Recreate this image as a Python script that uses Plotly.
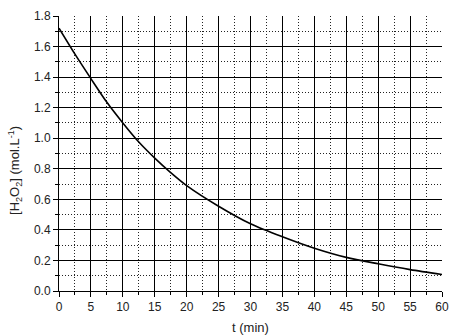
import plotly.graph_objects as go

# Data
t_min = [0, 2.5, 5, 7.5, 10, 12.5, 15, 17.5, 20, 25, 30, 35, 40, 45, 50, 55, 60]
h2o2 = [1.72, 1.55, 1.39, 1.235, 1.10, 0.975, 0.87, 0.775, 0.69, 0.555, 0.44,
        0.355, 0.28, 0.22, 0.178, 0.14, 0.108]

x_ticks = [0, 5, 10, 15, 20, 25, 30, 35, 40, 45, 50, 55, 60]
y_ticks = [0.0, 0.2, 0.4, 0.6, 0.8, 1.0, 1.2, 1.4, 1.6, 1.8]
y_tick_text = ["0.0", "0.2", "0.4", "0.6", "0.8", "1.0", "1.2", "1.4", "1.6", "1.8"]
x_grid = x_ticks[:-1]
y_grid = y_ticks[:-1]

font = "Liberation Sans, Arial, sans-serif"

fig = go.Figure()
fig.add_trace(go.Scatter(x=t_min, y=h2o2, mode="lines",
                         line=dict(color="black", width=1.6, shape="spline", smoothing=0.8),
                         showlegend=False, hoverinfo="skip"))
fig.add_trace(go.Scatter(x=[], y=[], xaxis="x2", yaxis="y2", showlegend=False))

fig.update_layout(
    width=461, height=335,
    margin=dict(l=59, r=19, t=9, b=44),
    paper_bgcolor="white", plot_bgcolor="white",
    font=dict(family=font, size=12, color="#222"),
    xaxis=dict(range=[0, 60], tickmode="array", tickvals=x_ticks,
               showline=True, linecolor="black", linewidth=1,
               ticks="outside", ticklen=5, tickcolor="black",
               showgrid=False, zeroline=False,
               minor=dict(tickmode="linear", tick0=2.5, dtick=5, ticks="outside",
                          ticklen=3, tickcolor="black", showgrid=True,
                          gridcolor="#222", gridwidth=1, griddash="1px,2px")),
    yaxis=dict(range=[0, 1.8], tickmode="array", tickvals=y_ticks, ticktext=y_tick_text,
               showline=True, linecolor="black", linewidth=1,
               ticks="outside", ticklen=5, tickcolor="black",
               showgrid=False, zeroline=False,
               minor=dict(tickmode="linear", tick0=0.1, dtick=0.2, ticks="outside",
                          ticklen=3, tickcolor="black", showgrid=True,
                          gridcolor="#222", gridwidth=1, griddash="1px,2px")),
    xaxis2=dict(overlaying="x", anchor="y", side="bottom", range=[0, 60],
                tickmode="array", tickvals=x_grid, showticklabels=False, ticks="",
                showgrid=True, gridcolor="black", gridwidth=1, zeroline=False, showline=False),
    yaxis2=dict(overlaying="y", anchor="x", side="left", range=[0, 1.8],
                tickmode="array", tickvals=y_grid, showticklabels=False, ticks="",
                showgrid=True, gridcolor="black", gridwidth=1, zeroline=False, showline=False),
    annotations=[
        dict(text="t (min)", xref="paper", yref="paper", x=0.5, y=-0.133,
             xanchor="center", yanchor="middle", showarrow=False,
             font=dict(family=font, size=13, color="#222")),
        dict(text="[H<sub>2</sub>O<sub>2</sub>] (mol.L<sup>-1</sup>)", xref="paper", yref="paper",
             x=-0.115, y=0.44, xanchor="center", yanchor="middle", textangle=-90,
             showarrow=False, font=dict(family=font, size=13, color="#222")),
    ],
)

fig.write_html("out.html", config={"displayModeBar": False},
               post_script="document.body.style.margin='0px';")
